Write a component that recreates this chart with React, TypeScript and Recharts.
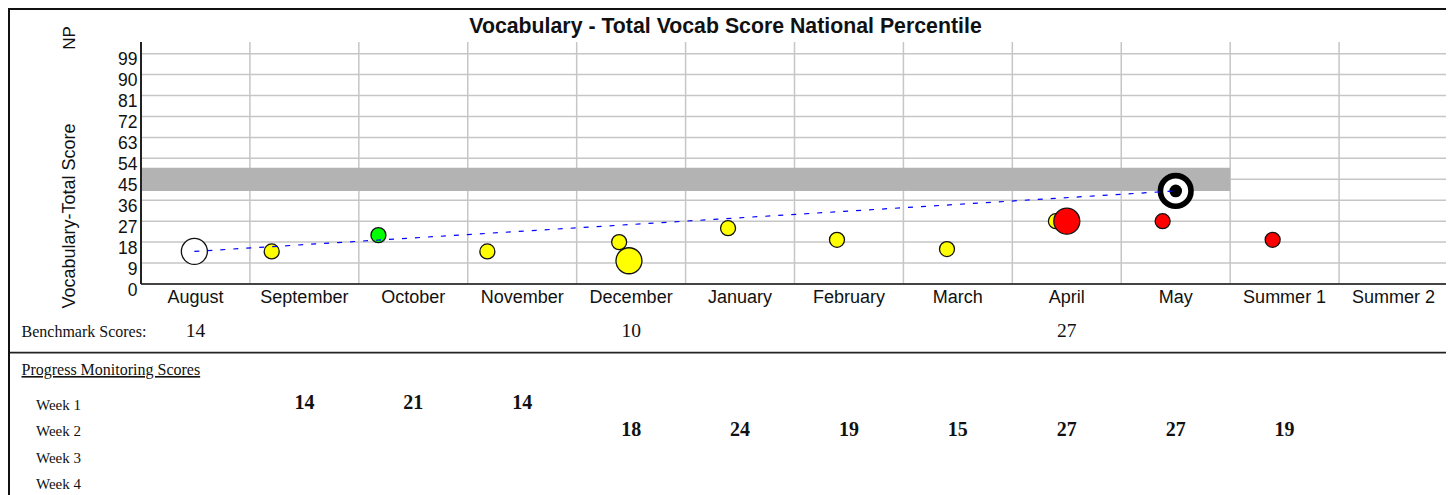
import {
  ComposedChart,
  Scatter,
  Line,
  XAxis,
  YAxis,
  CartesianGrid,
  ReferenceArea,
} from "recharts";

const MONTHS = [
  "August",
  "September",
  "October",
  "November",
  "December",
  "January",
  "February",
  "March",
  "April",
  "May",
  "Summer 1",
  "Summer 2",
];
const Y_TICKS = [0, 9, 18, 27, 36, 45, 54, 63, 72, 81, 90, 99];
const WEEKS = ["Week 1", "Week 2", "Week 3", "Week 4"];

// benchmark tests (time = month index + part of the month)
const benchmarkTimes = [0.49, 4.48, 8.5];
const benchmarkScores = [14, 10, 27];
const benchmarkStatus = ["baseline", "near", "below"];

// progress monitoring checks
const checkTimes = [1.2, 2.18, 3.18, 4.39, 5.39, 6.39, 7.4, 8.4, 9.38, 10.39];
const checkWeeks = [1, 1, 1, 2, 2, 2, 2, 2, 2, 2];
const checkScores = [14, 21, 14, 18, 24, 19, 15, 27, 27, 19];
const checkStatus = [
  "near",
  "above",
  "near",
  "near",
  "near",
  "near",
  "near",
  "near",
  "below",
  "below",
];

// goal + target range
const goalTime = 9.5;
const goalScore = 40;
const targetLow = 40;
const targetHigh = 50;
const targetEnd = 10;

const STATUS_FILL: Record<string, string> = {
  baseline: "#ffffff",
  above: "#00ff00",
  near: "#ffff00",
  below: "#ff0000",
};

const SANS = "'Liberation Sans', Arial, sans-serif";
const SERIF = "'Liberation Serif', 'Times New Roman', serif";

const checkData = checkTimes.map((t, i) => ({
  x: t,
  y: checkScores[i],
  status: checkStatus[i],
}));
const benchmarkData = benchmarkTimes.map((t, i) => ({
  x: t,
  y: benchmarkScores[i],
  status: benchmarkStatus[i],
}));
const goalData = [{ x: goalTime, y: goalScore }];
const aimData = [
  { x: benchmarkTimes[0], y: benchmarkScores[0] },
  { x: goalTime, y: goalScore },
];

const MONTH_TICKS = MONTHS.map((_, i) => i + 0.5);
const BOUNDARY_TICKS = MONTHS.slice(1).map((_, i) => i + 1);

// page layout of the table under the chart
const PLOT_LEFT = 141.1;
const COL_W = 108.9;
const colCenter = (i: number) => PLOT_LEFT + COL_W * (i + 0.5);
const WEEK_BASELINES = [409.5, 436, 462.5, 489];

function MonthTick(props: any) {
  const { x, y, payload } = props;
  return (
    <text
      x={x}
      y={y + 19}
      textAnchor="middle"
      fontSize={18}
      fontFamily={SANS}
      fill="#111"
    >
      {MONTHS[Math.floor(payload.value)]}
    </text>
  );
}

function ScoreTick(props: any) {
  const { x, y, payload } = props;
  return (
    <text
      x={x - 3.5}
      y={y + 11.5}
      textAnchor="end"
      fontSize={17.5}
      fontFamily={SANS}
      fill="#111"
    >
      {payload.value}
    </text>
  );
}

const smallDot = (p: any) => (
  <circle
    cx={p.cx}
    cy={p.cy}
    r={7.5}
    fill={STATUS_FILL[p.payload.status]}
    stroke="#111"
    strokeWidth={1.3}
  />
);

const bigDot = (p: any) => (
  <circle
    cx={p.cx}
    cy={p.cy}
    r={13}
    fill={STATUS_FILL[p.payload.status]}
    stroke="#111"
    strokeWidth={1.3}
  />
);

const targetMark = (p: any) => (
  <g>
    <circle cx={p.cx} cy={p.cy} r={15.3} fill="#fff" stroke="#000" strokeWidth={5.6} />
    <circle cx={p.cx} cy={p.cy} r={6.3} fill="#000" />
  </g>
);

export default function App() {
  return (
    <div style={{ position: "relative", width: 1440, height: 487 }}>
      <style>{"html,body{overflow:hidden}"}</style>
      <div style={{ position: "absolute", left: 2, top: 2 }}>
        <ComposedChart
          width={1438}
          height={300}
          margin={{ top: 32, right: 0, left: 0, bottom: 0 }}
        >
          <CartesianGrid
            stroke="#c6c6c6"
            strokeWidth={1.5}
            verticalValues={BOUNDARY_TICKS}
            horizontalValues={Y_TICKS}
          />
          <XAxis
            type="number"
            dataKey="x"
            domain={[0, 12]}
            ticks={MONTH_TICKS}
            interval={0}
            height={26}
            tickSize={0}
            tickMargin={0}
            tickLine={false}
            axisLine={{ stroke: "#444", strokeWidth: 2 }}
            tick={<MonthTick />}
          />
          <YAxis
            type="number"
            dataKey="y"
            domain={[0, 104]}
            ticks={Y_TICKS}
            interval={0}
            width={131}
            tickSize={0}
            tickMargin={0}
            tickLine={false}
            axisLine={{ stroke: "#222", strokeWidth: 2 }}
            tick={<ScoreTick />}
          />
          <ReferenceArea
            x1={0}
            x2={targetEnd}
            y1={targetLow}
            y2={targetHigh}
            fill="#b3b3b3"
            fillOpacity={1}
            stroke="none"
          />
          <Scatter data={checkData} shape={smallDot} isAnimationActive={false} />
          <Scatter data={benchmarkData} shape={bigDot} isAnimationActive={false} />
          <Scatter data={goalData} shape={targetMark} isAnimationActive={false} />
          <Line
            data={aimData}
            dataKey="y"
            type="linear"
            stroke="#0000ff"
            strokeWidth={1.2}
            strokeDasharray="5 8"
            dot={false}
            activeDot={false}
            isAnimationActive={false}
            zIndex={700}
          />
        </ComposedChart>
      </div>

      <svg
        width={1454}
        height={495}
        style={{ position: "absolute", left: -8, top: -8, pointerEvents: "none" }}
      >
        <text
          x={725.5}
          y={33}
          textAnchor="middle"
          fontSize={21.3}
          fontWeight="bold"
          fontFamily={SANS}
          fill="#111"
        >
          Vocabulary - Total Vocab Score National Percentile
        </text>
        <text
          x={75}
          y={38}
          transform="rotate(-90 75 38)"
          textAnchor="middle"
          fontSize={17}
          fontFamily={SANS}
          fill="#111"
        >
          NP
        </text>
        <text
          x={74.5}
          y={216}
          transform="rotate(-90 74.5 216)"
          textAnchor="middle"
          fontSize={18}
          fontFamily={SANS}
          fill="#111"
        >
          Vocabulary-Total Score
        </text>

        <text x={21.5} y={336.7} fontSize={16} fontFamily={SERIF} fill="#111">
          Benchmark Scores:
        </text>
        {benchmarkTimes.map((t, i) => (
          <text
            key={i}
            x={colCenter(Math.floor(t))}
            y={336.7}
            textAnchor="middle"
            fontSize={19.5}
            fontFamily={SERIF}
            fill="#111"
          >
            {benchmarkScores[i]}
          </text>
        ))}

        <line x1={8} x2={1448} y1={352.7} y2={352.7} stroke="#222" strokeWidth={1.7} />

        <text
          x={21.5}
          y={375}
          fontSize={16}
          fontFamily={SERIF}
          fill="#111"
          style={{ textDecoration: "underline" }}
        >
          Progress Monitoring Scores
        </text>
        {WEEKS.map((w, i) => (
          <text
            key={w}
            x={36}
            y={WEEK_BASELINES[i]}
            fontSize={15}
            fontFamily={SERIF}
            fill="#111"
          >
            {w}
          </text>
        ))}
        {checkTimes.map((t, i) => (
          <text
            key={i}
            x={colCenter(Math.floor(t))}
            y={WEEK_BASELINES[checkWeeks[i] - 1] - 0.5}
            textAnchor="middle"
            fontSize={20}
            fontWeight="bold"
            fontFamily={SERIF}
            fill="#111"
          >
            {checkScores[i]}
          </text>
        ))}
      </svg>

      <div
        style={{
          position: "absolute",
          left: 0,
          top: 0,
          width: 1440,
          height: 487,
          boxSizing: "border-box",
          borderTop: "2px solid #111",
          borderLeft: "2px solid #111",
          borderRight: "2px solid #111",
          pointerEvents: "none",
        }}
      />
    </div>
  );
}
